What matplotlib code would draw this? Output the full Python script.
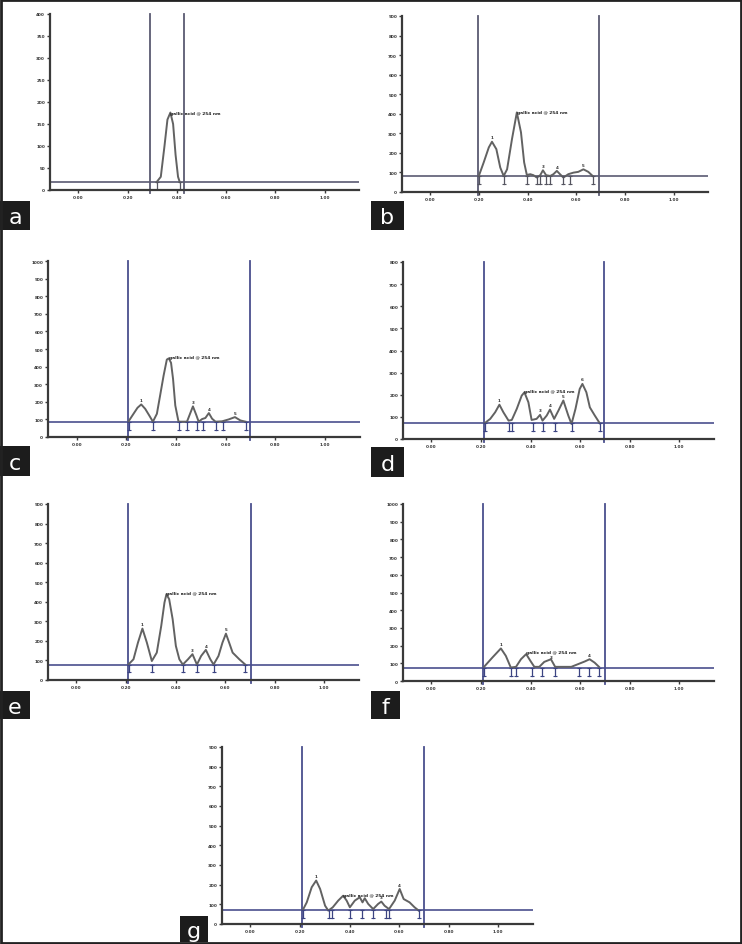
import matplotlib
matplotlib.use("Agg")
import numpy as np
from matplotlib import pyplot as plt
from matplotlib.patches import Rectangle

# densitogram tracks (Rf, AU)
a_rf = [0.318, 0.335, 0.350, 0.362, 0.374, 0.385, 0.395, 0.405, 0.412]
a_au = [18, 30, 100, 160, 176, 150, 80, 30, 18]

b_rf = [0.200, 0.220, 0.241, 0.254, 0.272, 0.288, 0.302, 0.316, 0.336, 0.356, 0.373, 0.386,
        0.397, 0.411, 0.424, 0.438, 0.452, 0.463, 0.476, 0.493, 0.506, 0.520, 0.533, 0.547,
        0.567, 0.588, 0.608, 0.629, 0.649, 0.667]
b_au = [82, 151, 228, 257, 219, 125, 82, 116, 270, 407, 305, 151,
        87, 91, 86, 74, 86, 111, 86, 82, 91, 108, 91, 74,
        91, 99, 103, 116, 103, 82]

c_rf = [0.209, 0.229, 0.245, 0.260, 0.276, 0.292, 0.307, 0.323, 0.336, 0.350, 0.363, 0.371,
        0.380, 0.388, 0.397, 0.410, 0.444, 0.458, 0.468, 0.482, 0.491, 0.505, 0.518, 0.532,
        0.545, 0.559, 0.585, 0.612, 0.637, 0.659, 0.680]
c_au = [89, 132, 166, 185, 160, 123, 87, 132, 236, 349, 440, 447,
        421, 330, 179, 87, 87, 138, 174, 123, 87, 102, 108, 136,
        104, 87, 89, 100, 113, 94, 87]

d_rf = [0.214, 0.237, 0.257, 0.274, 0.290, 0.311, 0.324, 0.344, 0.364, 0.375, 0.391, 0.404,
        0.424, 0.438, 0.448, 0.465, 0.478, 0.495, 0.512, 0.532, 0.552, 0.565, 0.581, 0.598,
        0.609, 0.625, 0.639, 0.659, 0.679]
d_au = [71, 91, 121, 155, 121, 83, 86, 136, 196, 211, 166, 86,
        91, 109, 83, 106, 133, 91, 128, 174, 106, 68, 136, 226,
        249, 211, 143, 106, 71]

e_rf = [0.210, 0.230, 0.248, 0.266, 0.284, 0.304, 0.324, 0.342, 0.355, 0.363, 0.374, 0.388,
        0.401, 0.415, 0.429, 0.450, 0.468, 0.486, 0.503, 0.522, 0.540, 0.553, 0.573, 0.589,
        0.603, 0.616, 0.630, 0.657, 0.681]
e_au = [80, 106, 191, 263, 191, 97, 140, 277, 396, 439, 413, 311,
        174, 106, 79, 106, 132, 79, 123, 154, 106, 79, 123, 191,
        237, 191, 140, 106, 79]

f_rf = [0.212, 0.246, 0.280, 0.300, 0.320, 0.341, 0.361, 0.382, 0.399, 0.415, 0.435, 0.455,
        0.482, 0.499, 0.530, 0.564, 0.591, 0.618, 0.638, 0.658, 0.676]
f_au = [80, 133, 184, 142, 76, 80, 123, 152, 114, 80, 80, 108,
        123, 80, 80, 80, 95, 110, 123, 104, 80]

g_rf = [0.211, 0.227, 0.247, 0.265, 0.281, 0.301, 0.314, 0.332, 0.354, 0.374, 0.388, 0.401,
        0.421, 0.441, 0.452, 0.461, 0.475, 0.495, 0.515, 0.528, 0.541, 0.559, 0.582, 0.602,
        0.618, 0.642, 0.662, 0.679]
g_au = [71, 110, 187, 221, 178, 93, 68, 85, 119, 144, 119, 85,
        119, 136, 110, 131, 102, 76, 102, 114, 93, 76, 119, 178,
        127, 110, 85, 68]

# y-axis top, baseline level, track start/front lines, peak bracket positions
ymax = {"a": 400, "b": 900, "c": 1000, "d": 800, "e": 900, "f": 1000, "g": 900}
ystep = {"a": 50, "b": 100, "c": 100, "d": 100, "e": 100, "f": 100, "g": 100}
baseline = {"a": 18, "b": 80, "c": 87, "d": 71, "e": 79, "f": 76, "g": 71}
vlines = {"a": [0.29, 0.43], "b": [0.197, 0.691], "c": [0.206, 0.698], "d": [0.210, 0.696],
          "e": [0.207, 0.705], "f": [0.208, 0.701], "g": [0.207, 0.699]}
brackets = {
    "a": [0.318, 0.412],
    "b": [0.200, 0.302, 0.397, 0.438, 0.452, 0.476, 0.493, 0.547, 0.574, 0.667],
    "c": [0.209, 0.307, 0.410, 0.444, 0.485, 0.509, 0.559, 0.589, 0.680],
    "d": [0.214, 0.311, 0.324, 0.408, 0.448, 0.498, 0.565, 0.679],
    "e": [0.210, 0.304, 0.429, 0.486, 0.553, 0.681],
    "f": [0.212, 0.320, 0.341, 0.405, 0.446, 0.499, 0.597, 0.634, 0.676],
    "g": [0.211, 0.318, 0.328, 0.401, 0.448, 0.495, 0.548, 0.559, 0.679],
}
# peak labels: (Rf, AU, text)
gallic_txt = "gallic acid @ 254 nm"
peaks = {
    "a": [(0.374, 176, gallic_txt)],
    "b": [(0.254, 262, "1"), (0.356, 407, gallic_txt), (0.463, 116, "3"), (0.520, 112, "4"), (0.629, 120, "5")],
    "c": [(0.260, 190, "1"), (0.371, 452, gallic_txt), (0.468, 180, "3"), (0.532, 140, "4"), (0.637, 118, "5")],
    "d": [(0.274, 160, "1"), (0.375, 215, gallic_txt), (0.438, 114, "3"), (0.478, 138, "4"),
          (0.532, 178, "5"), (0.609, 255, "6")],
    "e": [(0.266, 270, "1"), (0.363, 443, gallic_txt), (0.468, 136, "3"), (0.522, 158, "4"), (0.603, 243, "5")],
    "f": [(0.280, 188, "1"), (0.382, 166, gallic_txt), (0.482, 118, "3"), (0.638, 128, "4")],
    "g": [(0.265, 227, "1"), (0.374, 148, gallic_txt), (0.528, 118, "3"), (0.602, 183, "4")],
}

curves = {"a": (a_rf, a_au), "b": (b_rf, b_au), "c": (c_rf, c_au), "d": (d_rf, d_au),
          "e": (e_rf, e_au), "f": (f_rf, f_au), "g": (g_rf, g_au)}

W, H = 742, 945
# axes box in pixels: left, top, right, bottom ; label box: x0, y0, x1, y1
axbox = {"a": (50, 15, 359, 191), "b": (402, 17, 708, 193), "c": (48, 262, 360, 438),
         "d": (403, 263, 714, 440), "e": (48, 505, 359, 681), "f": (403, 505, 714, 682),
         "g": (222, 748, 533, 925)}
labbox = {"a": (0, 202, 30, 231), "b": (371, 202, 404, 231), "c": (0, 447, 30, 477),
          "d": (371, 448, 404, 478), "e": (0, 692, 30, 720), "f": (371, 692, 400, 720),
          "g": (180, 917, 208, 943)}

fig = plt.figure(figsize=(W / 100, H / 100), dpi=100)
fig.patch.set_facecolor("white")

for key in "abcdefg":
    l, t, r, b = axbox[key]
    ax = fig.add_axes([l / W, 1 - b / H, (r - l) / W, (b - t) / H])
    ym = ymax[key]
    ax.set_xlim(-0.115, 1.14)
    ax.set_ylim(0, ym)
    for s in ["top", "right"]:
        ax.spines[s].set_visible(False)
    for s in ["left", "bottom"]:
        ax.spines[s].set_color("#3a3a3a")
        ax.spines[s].set_linewidth(1.6)

    ax.set_xticks(np.arange(0, 1.01, 0.2))
    ax.set_xticklabels(["%.2f" % v for v in np.arange(0, 1.01, 0.2)])
    yt = np.arange(0, ym + 1, ystep[key])
    ax.set_yticks(yt)
    ax.set_yticklabels([str(int(v)) for v in yt])
    ax.tick_params(axis="both", length=2, width=1, color="#3a3a3a", pad=1.5,
                   labelsize=3, labelcolor="#333333")
    for lab in ax.get_xticklabels() + ax.get_yticklabels():
        lab.set_fontweight("bold")

    lc = "#5a5a72" if key in "ab" else "#4a4f8e"
    ax.axhline(baseline[key], color=lc, lw=1.2)
    for v in vlines[key]:
        ax.plot([v, v], [-0.015 * ym, ym], color=lc, lw=1.3, clip_on=False)

    rf, au = curves[key]
    ax.plot(rf, au, color="#626262", lw=1.4, solid_joinstyle="round")

    bl = baseline[key]
    bc = "#555560" if key in "ab" else "#3c4482"
    for v in brackets[key]:
        ax.plot([v, v], [bl, bl - 0.045 * ym], color=bc, lw=0.9)
        ax.plot([v, v], [bl, bl - 0.045 * ym], ls="none", marker="_", ms=3, mew=0.8, color=bc)

    for px, py, txt in peaks[key]:
        if txt == gallic_txt:
            ax.text(px, py, txt, fontsize=3.2, fontweight="bold", color="#222222",
                    ha="left", va="center")
        else:
            ax.text(px, py + 0.008 * ym, txt, fontsize=3, fontweight="bold", color="#333333",
                    ha="center", va="bottom")

    x0, y0, x1, y1 = labbox[key]
    fig.patches.append(Rectangle((x0 / W, 1 - y1 / H), (x1 - x0) / W, (y1 - y0) / H,
                                 transform=fig.transFigure, facecolor="#1c1c1c",
                                 edgecolor="none", zorder=5))
    fig.text((x0 + x1) / 2 / W, 1 - (y0 + y1) / 2 / H - 0.002, key, color="white",
             fontsize=16, ha="center", va="center", zorder=6)

fig.patches.append(Rectangle((0.0015, 0.0015), 0.997, 0.997, transform=fig.transFigure,
                             facecolor="none", edgecolor="#222222", lw=2, zorder=10))

fig.savefig("out.png", dpi=100)
